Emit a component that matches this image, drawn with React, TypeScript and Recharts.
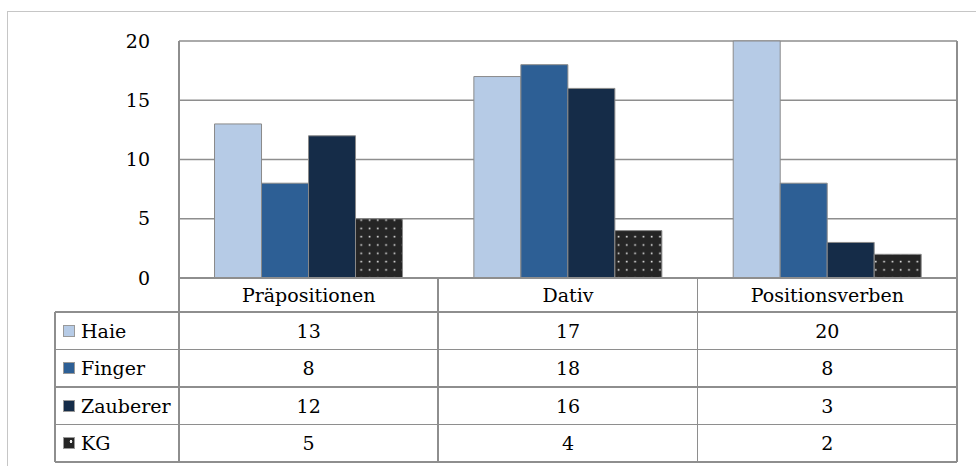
import { BarChart, Bar, XAxis, YAxis, CartesianGrid } from "recharts";

const categories = ["Präpositionen", "Dativ", "Positionsverben"];
const haie = [13, 17, 20];
const finger = [8, 18, 8];
const zauberer = [12, 16, 3];
const kg = [5, 4, 2];
const yTicks = [0, 5, 10, 15, 20];

const series = [
  { key: "haie", name: "Haie", values: haie, fill: "#b6cbe6" },
  { key: "finger", name: "Finger", values: finger, fill: "#2d5f95" },
  { key: "zauberer", name: "Zauberer", values: zauberer, fill: "#152c48" },
  { key: "kg", name: "KG", values: kg, fill: "url(#dots)" },
];

const data = categories.map((c, i) => {
  const row: any = { cat: c };
  series.forEach((s) => (row[s.key] = s.values[i]));
  return row;
});

const W = 976;
const H = 466;
const plotL = 179;
const plotR = 957;
const plotT = 41;
const plotB = 278;
const rowH = 37.5;
const headH = 34;
const legendL = 55;
const line = "#8e8e8e";
const font = "'DejaVu Serif', serif";
const fs = 19;
const ink = "#000";

export default function App() {
  const colW = (plotR - plotL) / categories.length;
  const tableTop = plotB + headH;
  const tableBottom = tableTop + rowH * series.length;
  return (
    <div style={{ position: "relative", width: W, height: H, overflow: "hidden", background: "#fff", fontFamily: font }}>
      <style>{`body{margin:0}`}</style>
      {/* outer frame */}
      <div style={{ position: "absolute", left: 7, top: 11, width: W, height: H, borderLeft: "1px solid #c6c6c6", borderTop: "1px solid #c6c6c6" }} />
      <BarChart
        width={W}
        height={H}
        data={data}
        margin={{ top: plotT, right: W - plotR, left: plotL - 60, bottom: H - plotB - headH }}
        barCategoryGap="13.7%"
        barGap={0}
        style={{ position: "absolute", left: 0, top: 0 }}
      >
        <defs>
          <pattern id="dots" width="8.3" height="8.3" patternUnits="userSpaceOnUse">
            <rect width="8.3" height="8.3" fill="#252525" />
            <rect x="3.5" y="3.5" width="1.6" height="1.6" fill="#e8e8e8" />
          </pattern>
        </defs>
        <CartesianGrid vertical={false} stroke={line} strokeWidth={1.5} horizontalValues={yTicks} />
        <XAxis
          dataKey="cat"
          height={headH}
          axisLine={false}
          tickLine={false}
          tick={{ fontSize: fs, fill: ink, fontFamily: font }}
          tickMargin={5}
        />
        <YAxis
          width={60}
          domain={[0, 20]}
          ticks={yTicks}
          axisLine={false}
          tickLine={false}
          tickMargin={23}
          tick={{ fontSize: fs, fill: ink, fontFamily: font }}
        />
        {series.map((s) => (
          <Bar key={s.key} dataKey={s.key} name={s.name} fill={s.fill} stroke="#8a8a8a" strokeWidth={1} isAnimationActive={false} />
        ))}
      </BarChart>
      {/* plot side borders + table vertical lines */}
      <div style={{ position: "absolute", left: plotL - 1, top: plotT, width: 1.5, height: tableBottom - plotT, background: line }} />
      <div style={{ position: "absolute", left: plotR - 1, top: plotT, width: 1.5, height: tableBottom - plotT, background: line }} />
      {categories.slice(1).map((c, i) => (
        <div key={c} style={{ position: "absolute", left: plotL + colW * (i + 1) - 1, top: plotB, width: 1.5, height: tableBottom - plotB, background: line }} />
      ))}
      <div style={{ position: "absolute", left: legendL - 1, top: tableTop, width: 1.5, height: tableBottom - tableTop, background: line }} />
      {/* horizontal lines */}
      <div style={{ position: "absolute", left: plotL, top: plotB - 1, width: plotR - plotL, height: 1.5, background: line }} />
      {series.map((s, r) => (
        <div key={"h" + s.key} style={{ position: "absolute", left: legendL, top: tableTop + rowH * r - 1, width: plotR - legendL, height: 1.5, background: line }} />
      ))}
      <div style={{ position: "absolute", left: legendL, top: tableBottom - 1, width: plotR - legendL, height: 1.5, background: line }} />
      {/* rows */}
      {series.map((s, r) => (
        <div key={"r" + s.key}>
          <div style={{ position: "absolute", left: legendL + 8, top: tableTop + rowH * r, height: rowH, display: "flex", alignItems: "center", fontSize: fs, color: ink }}>
            <span
              style={{
                display: "inline-block",
                width: 10,
                height: 10,
                marginRight: 6,
                border: "1px solid #999",
                background: s.key === "kg" ? "radial-gradient(circle at 70% 35%, #eee 1.2px, #252525 1.6px)" : s.fill,
              }}
            />
            {s.name}
          </div>
          {s.values.map((v, i) => (
            <div key={i} style={{ position: "absolute", left: plotL + colW * i, width: colW, top: tableTop + rowH * r, height: rowH, display: "flex", alignItems: "center", justifyContent: "center", fontSize: fs, color: ink }}>
              {v}
            </div>
          ))}
        </div>
      ))}
    </div>
  );
}
